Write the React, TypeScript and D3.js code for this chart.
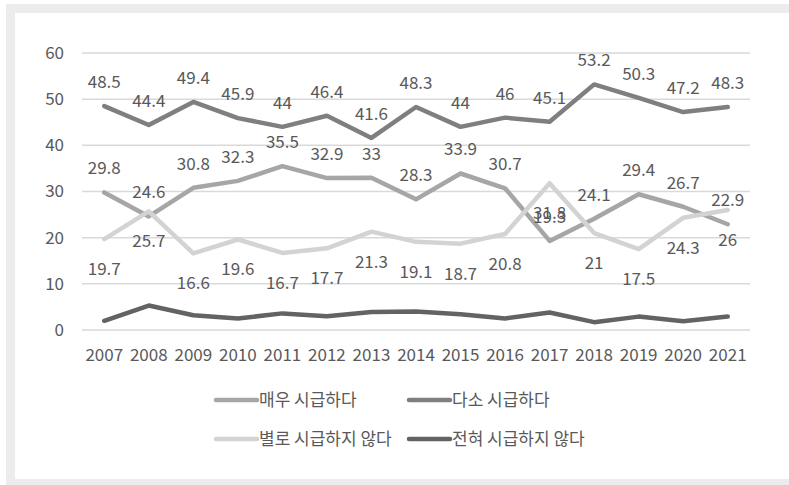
import React from "react";
import * as d3 from "d3";

const years = ["2007","2008","2009","2010","2011","2012","2013","2014","2015","2016","2017","2018","2019","2020","2021"];
const veryUrgent = [29.8,24.6,30.8,32.3,35.5,32.9,33,28.3,33.9,30.7,19.3,24.1,29.4,26.7,22.9];
const somewhatUrgent = [48.5,44.4,49.4,45.9,44,46.4,41.6,48.3,44,46,45.1,53.2,50.3,47.2,48.3];
const notVeryUrgent = [19.7,25.7,16.6,19.6,16.7,17.7,21.3,19.1,18.7,20.8,31.8,21,17.5,24.3,26];
const notAtAllUrgent = [2.0,5.3,3.2,2.5,3.6,3.0,3.9,4.0,3.4,2.5,3.8,1.7,2.9,1.9,2.9];
const yTicks = [0,10,20,30,40,50,60];

const seriesNames = ["매우 시급하다","다소 시급하다","별로 시급하지 않다","전혀 시급하지 않다"];

const W = 789, H = 485;
const FONT = "'Noto Sans CJK KR', 'Noto Sans', sans-serif";
const TEXT = "#595959";

export default function App() {
  const x = d3.scalePoint<string>().domain(years).range([82, 750]).padding(0.5);
  const y = d3.scaleLinear().domain([0, 60]).range([330, 53]);
  const line = d3.line<number>().x((_, i) => x(years[i]) as number).y(d => y(d));

  const series = [
    { name: seriesNames[0], values: veryUrgent, color: "#a6a6a6", label: "above" },
    { name: seriesNames[1], values: somewhatUrgent, color: "#7f7f7f", label: "above" },
    { name: seriesNames[2], values: notVeryUrgent, color: "#d3d3d3", label: "below" },
    { name: seriesNames[3], values: notAtAllUrgent, color: "#636363", label: "none" },
  ];
  const drawOrder = [0, 1, 2, 3];

  const legend = [
    { s: 0, x: 216, y: 400 },
    { s: 1, x: 409, y: 400 },
    { s: 2, x: 216, y: 439 },
    { s: 3, x: 409, y: 439 },
  ];

  return (
    <svg width={W} height={H} style={{ position: "absolute", left: 0, top: 0, fontFamily: FONT }}>
      <rect x={0} y={0} width={W} height={H} fill="#ffffff" />
      <rect x={6} y={4} width={W - 6} height={H - 4} fill="#ececec" />
      <rect x={15} y={13} width={W - 15} height={479 - 13} fill="#ffffff" />

      {yTicks.map(t => (
        <g key={t}>
          <line x1={82} x2={750} y1={y(t)} y2={y(t)} stroke="#d9d9d9" strokeWidth={1.5} />
          <text x={64} y={y(t)} dy="0.35em" textAnchor="end" fontSize={17} fill={TEXT}>{t}</text>
        </g>
      ))}
      {years.map(yr => (
        <text key={yr} x={x(yr) as number} y={355} dy="0.35em" textAnchor="middle" fontSize={17} fill={TEXT}>{yr}</text>
      ))}

      {drawOrder.map(i => (
        <path key={i} d={line(series[i].values) as string} fill="none" stroke={series[i].color}
          strokeWidth={4.5} strokeLinejoin="round" strokeLinecap="round" />
      ))}

      {series.map((s, si) => s.label === "none" ? null : s.values.map((v, i) => (
        <text key={si + "-" + i} x={x(years[i]) as number}
          y={y(v) + (s.label === "above" ? -24 : 30)} dy="0.35em"
          textAnchor="middle" fontSize={17} fill={TEXT}>{v}</text>
      )))}

      {legend.map(l => (
        <g key={l.s}>
          <line x1={l.x} x2={l.x + 41} y1={l.y} y2={l.y} stroke={series[l.s].color} strokeWidth={4.5} strokeLinecap="round" />
          <text x={l.x + 43} y={l.y} dy="0.35em" fontSize={17} fill={TEXT}>{series[l.s].name}</text>
        </g>
      ))}
    </svg>
  );
}
